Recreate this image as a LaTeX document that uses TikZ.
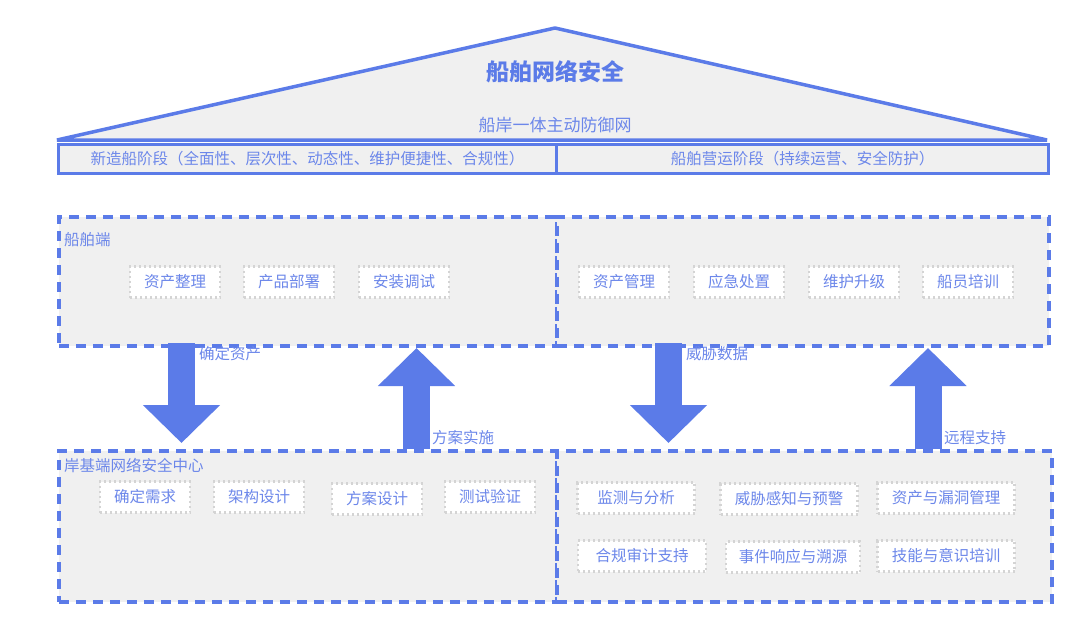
\documentclass[tikz,border=0pt]{standalone}
\usepackage{fontspec}
\setmainfont{Noto Sans CJK SC}
\usetikzlibrary{arrows.meta}
\definecolor{netblue}{HTML}{5B7BE8}
\definecolor{txtblue}{HTML}{6C87EA}
\definecolor{roofgray}{HTML}{F0F0F0}
\definecolor{dotgray}{HTML}{D4D4D4}
\tikzset{
  zone/.style={draw=netblue, fill=roofgray, line width=3.5pt, dash pattern=on 10pt off 7pt, anchor=north west, inner sep=0pt},
  item/.style={draw=dotgray, fill=white, line width=2.2pt, dash pattern=on 2pt off 3pt, minimum width=90pt, minimum height=31pt, inner sep=0pt, text=txtblue, font=\fontsize{15.5pt}{18pt}\selectfont},
  lbl/.style={text=txtblue, font=\fontsize{15.5pt}{18pt}\selectfont, inner sep=0pt},
  bigarrow/.style={netblue, line width=27pt, -{Triangle[width=75pt,length=38pt]}}
}
\begin{document}
\begin{tikzpicture}[x=1pt,y=-1pt]
\useasboundingbox (0,0) rectangle (1080,630);
% roof
\draw[netblue, fill=roofgray, line width=3.5pt, line join=bevel] (57,140) -- (555,28) -- (1047,140) -- cycle;
\node[lbl, font=\fontsize{23pt}{26pt}\selectfont\bfseries, text=netblue] (title) at (555,72) {船舶网络安全};
\node[lbl, font=\fontsize{17pt}{20pt}\selectfont] (sub) at (555,125) {船岸一体主动防御网};
% phases
\node[draw=netblue, fill=roofgray, line width=3pt, minimum width=498pt, minimum height=29pt, anchor=north west, inner sep=0pt] (phaseL) at (57,143) {};
\node[draw=netblue, fill=roofgray, line width=3pt, minimum width=492pt, minimum height=29pt, anchor=north west, inner sep=0pt] (phaseR) at (555,143) {};
\node[lbl] at (phaseL.center) {新造船阶段（全面性、层次性、动态性、维护便捷性、合规性）};
\node[lbl] at (phaseR.center) {船舶营运阶段（持续运营、安全防护）};

% ship side
\node[zone, minimum width=498pt, minimum height=129pt] (shipL) at (57,215) {};
\node[zone, minimum width=492pt, minimum height=129pt] (shipR) at (555,215) {};
\node[lbl, anchor=west] (shipT) at (64,240) {船舶端};
\node[item] (sa) at (175,282) {资产整理};
\node[item] (sb) at (289,282) {产品部署};
\node[item] (sc) at (404,282) {安装调试};
\node[item] (sd) at (624,282) {资产管理};
\node[item] (se) at (739,282) {应急处置};
\node[item] (sf) at (854,282) {维护升级};
\node[item] (sg) at (968,282) {船员培训};

% shore side
\node[zone, minimum width=498pt, minimum height=151pt] (shoreL) at (57,449) {};
\node[zone, minimum width=495pt, minimum height=151pt] (shoreR) at (555,449) {};
\node[lbl, anchor=west] (shoreT) at (64,466) {岸基端网络安全中心};
\node[item] (ca) at (145,497) {确定需求};
\node[item] (cb) at (259,497) {架构设计};
\node[item] (cc) at (377,499) {方案设计};
\node[item] (cd) at (490,497) {测试验证};
\node[item, minimum width=117pt] (ce) at (636,498) {监测与分析};
\node[item, minimum width=137pt] (cf) at (789,499) {威胁感知与预警};
\node[item, minimum width=137pt] (cg) at (946,498) {资产与漏洞管理};
\node[item, minimum width=128pt] (ch) at (642,556) {合规审计支持};
\node[item, minimum width=134pt] (ci) at (793,557) {事件响应与溯源};
\node[item, minimum width=137pt] (cj) at (946,556) {技能与意识培训};

% arrows
\coordinate (a1s) at (181.5,343);
\coordinate (a1e) at (181.5,443);
\coordinate (a2s) at (416.5,449);
\coordinate (a2e) at (416.5,348);
\coordinate (a3s) at (668.5,343);
\coordinate (a3e) at (668.5,443);
\coordinate (a4s) at (928,449);
\coordinate (a4e) at (928,348);
\draw[bigarrow] (a1s) -- (a1e);
\draw[bigarrow] (a2s) -- (a2e);
\draw[bigarrow] (a3s) -- (a3e);
\draw[bigarrow] (a4s) -- (a4e);
\node[lbl, anchor=west] (l1) at (199,354) {确定资产};
\node[lbl, anchor=west] (l2) at (432,438) {方案实施};
\node[lbl, anchor=west] (l3) at (686,354) {威胁数据};
\node[lbl, anchor=west] (l4) at (944,438) {远程支持};
\end{tikzpicture}
\end{document}
